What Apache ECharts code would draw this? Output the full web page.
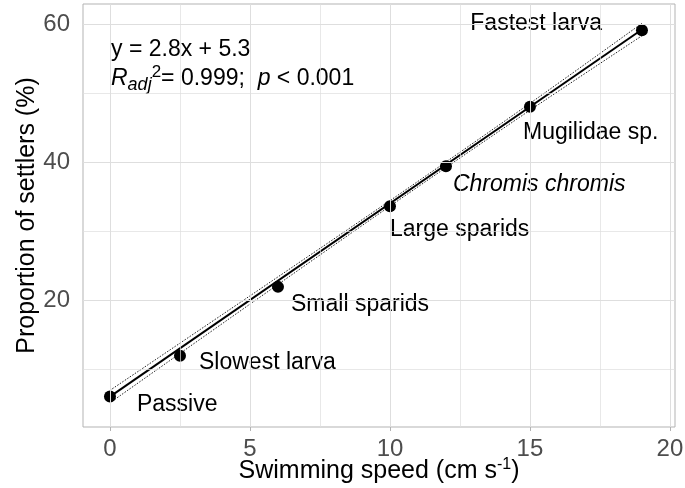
<!DOCTYPE html>
<html>
<head>
<meta charset="utf-8">
<script src="https://cdn.jsdelivr.net/npm/echarts@6/dist/echarts.min.js"></script>
<style>
  html, body { margin: 0; padding: 0; background: #fff; }
  #chart { width: 685px; height: 488px; }
</style>
</head>
<body>
<div id="chart"></div>
<script>
// larval groups, swimming speed (cm/s) vs proportion of settlers (%)
const groups = ['Passive', 'Slowest larva', 'Small sparids', 'Large sparids', 'Chromis chromis', 'Mugilidae sp.', 'Fastest larva']
const speed = [0, 2.5, 6, 10, 12, 15, 19]
const settlers = [6.0, 11.9, 21.9, 33.6, 39.4, 48.0, 59.1]

// fitted line and its confidence band
const fitX = [0, 19]
const fitY = [6.0, 59.2]
const bandX = [0, 5, 10, 15, 19]
const bandUpper = [6.9, 20.6, 34.4, 48.5, 60.1]
const bandLower = [5.1, 19.4, 33.6, 47.5, 58.3]

const xTicks = [0, 5, 10, 15, 20]
const xMinor = [2.5, 7.5, 12.5, 17.5]
const yTicks = [20, 40, 60]
const yMinor = [10, 30, 50]

// label placement relative to each point centre: [dx, dy, align]
const labelPlace = [
  [27, 8, 'left'],
  [19, 7, 'left'],
  [13, 18, 'left'],
  [0, 24, 'left'],
  [7, 18, 'left'],
  [-7, 26, 'left'],
  [-40, -7, 'right']
]

const FONT = '"Liberation Sans", Arial, sans-serif'
const GRID = '#dedede'
const DOT = 12

const chart = echarts.init(document.getElementById('chart'))

const pairs = (xs, ys) => xs.map((x, i) => [x, ys[i]])

const gridLines = []
xTicks.forEach(v => gridLines.push({ xAxis: v, lineStyle: { color: GRID, width: 1, type: 'solid' } }))
xMinor.forEach(v => gridLines.push({ xAxis: v, lineStyle: { color: GRID, width: 0.7, type: 'solid' } }))
yTicks.forEach(v => gridLines.push({ yAxis: v, lineStyle: { color: GRID, width: 1, type: 'solid' } }))
yMinor.forEach(v => gridLines.push({ yAxis: v, lineStyle: { color: GRID, width: 0.7, type: 'solid' } }))

const points = speed.map((x, i) => ({
  value: [x, settlers[i]],
  name: groups[i],
  label: {
    // position is measured from the symbol's top-left corner
    position: [DOT / 2 + labelPlace[i][0], DOT / 2 + labelPlace[i][1]],
    align: labelPlace[i][2],
    fontStyle: groups[i] === 'Chromis chromis' ? 'italic' : 'normal'
  }
}))

chart.setOption({
  animation: false,
  backgroundColor: '#fff',
  textStyle: { fontFamily: FONT },
  grid: {
    left: 83,
    right: 10,
    top: 4,
    bottom: 61,
    containLabel: false,
    outerBoundsMode: 'none',
    show: true,
    borderColor: '#b3b3b3',
    borderWidth: 1,
    backgroundColor: 'transparent'
  },
  xAxis: {
    type: 'value',
    min: -0.964,
    max: 20.18,
    name: '{t|Swimming speed (cm s}{sup|-1}{t|)}',
    nameLocation: 'middle',
    nameGap: 30,
    nameMoveOverlap: false,
    nameTextStyle: {
      rich: {
        t: { fontSize: 25, color: '#000', fontFamily: FONT, lineHeight: 28, verticalAlign: 'middle' },
        sup: { fontSize: 16, color: '#000', fontFamily: FONT, lineHeight: 16, verticalAlign: 'top' }
      }
    },
    axisLine: { show: false },
    axisTick: { show: true, customValues: xTicks, length: 4, lineStyle: { color: '#b3b3b3' } },
    axisLabel: { customValues: xTicks, color: '#4d4d4d', fontSize: 24, margin: 10, fontFamily: FONT },
    splitLine: { show: false }
  },
  yAxis: {
    type: 'value',
    min: 1.59,
    max: 62.9,
    name: 'Proportion of settlers (%)',
    nameLocation: 'middle',
    nameGap: 43,
    nameMoveOverlap: false,
    nameTextStyle: { fontSize: 25, color: '#000', fontFamily: FONT },
    axisLine: { show: false },
    axisTick: { show: true, customValues: yTicks, length: 4, lineStyle: { color: '#b3b3b3' } },
    axisLabel: { customValues: yTicks, color: '#4d4d4d', fontSize: 24, margin: 13, fontFamily: FONT },
    splitLine: { show: false }
  },
  series: [
    {
      type: 'line',
      data: [],
      z: 0,
      silent: true,
      markLine: {
        silent: true,
        symbol: 'none',
        label: { show: false },
        animation: false,
        data: gridLines
      }
    },
    {
      type: 'line',
      data: pairs(bandX, bandUpper),
      symbol: 'none',
      smooth: 0.3,
      lineStyle: { color: '#222', width: 1, type: [1.5, 1.5] },
      z: 2
    },
    {
      type: 'line',
      data: pairs(bandX, bandLower),
      symbol: 'none',
      smooth: 0.3,
      lineStyle: { color: '#222', width: 1, type: [1.5, 1.5] },
      z: 2
    },
    {
      type: 'line',
      data: pairs(fitX, fitY),
      symbol: 'none',
      lineStyle: { color: '#000', width: 2 },
      z: 3
    },
    {
      type: 'scatter',
      data: points,
      symbol: 'circle',
      symbolSize: DOT,
      itemStyle: { color: '#000', opacity: 1, borderWidth: 0 },
      z: 4,
      label: {
        show: true,
        formatter: '{b}',
        color: '#000',
        fontSize: 23,
        fontFamily: FONT,
        verticalAlign: 'middle',
        textBorderWidth: 0
      }
    }
  ],
  graphic: [
    {
      type: 'text',
      left: 111,
      top: 38,
      style: { text: 'y = 2.8x + 5.3', fontSize: 23, fontFamily: FONT, fill: '#000' }
    },
    {
      type: 'text',
      left: 111,
      top: 64,
      style: {
        text: '{i|R}{sub|adj}{sup|2}{n|= 0.999;  }{i|p}{n| < 0.001}',
        fontFamily: FONT,
        rich: {
          n: { fontSize: 23, fontFamily: FONT, fill: '#000', lineHeight: 30, verticalAlign: 'middle' },
          i: { fontSize: 23, fontFamily: FONT, fontStyle: 'italic', fill: '#000', lineHeight: 30, verticalAlign: 'middle' },
          sub: { fontSize: 18, fontFamily: FONT, fontStyle: 'italic', fill: '#000', lineHeight: 17, verticalAlign: 'bottom' },
          sup: { fontSize: 17, fontFamily: FONT, fill: '#000', lineHeight: 16, verticalAlign: 'top' }
        }
      }
    }
  ]
})
</script>
</body>
</html>
